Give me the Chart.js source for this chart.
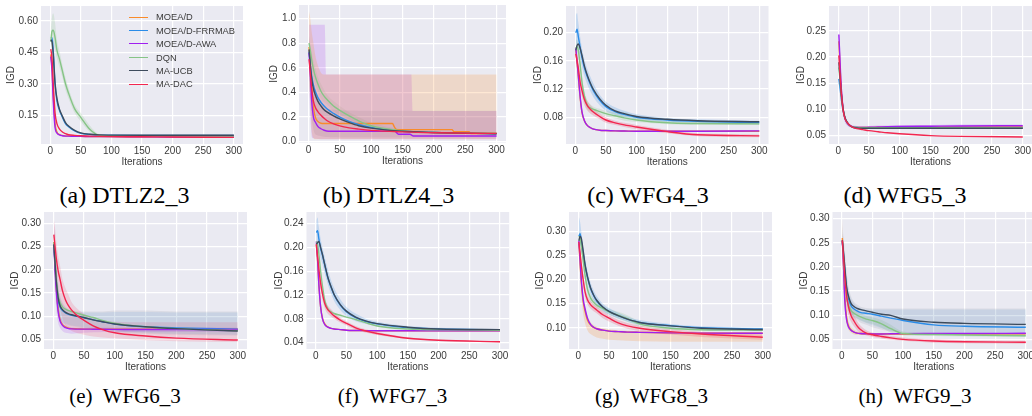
<!DOCTYPE html>
<html><head><meta charset="utf-8">
<script src="https://cdn.jsdelivr.net/npm/chart.js@4.4.1/dist/chart.umd.min.js"></script>
<style>
html,body{margin:0;padding:0;background:#fff;width:1032px;height:416px;overflow:hidden;position:relative;}
canvas{position:absolute;}
.cap{position:absolute;font-family:'Liberation Serif','Times New Roman',serif;white-space:pre;color:#000;transform:translateX(-50%);}
.lgrow{position:absolute;font-family:'Liberation Sans',Arial,sans-serif;font-size:9.3px;line-height:12px;color:#3a3a3a;white-space:nowrap;}
.lgsw{position:absolute;height:0;width:19px;}
</style></head><body>
<script>
// ---------- series ----------
const seriesNames = ['MOEA/D','MOEA/D-FRRMAB','MOEA/D-AWA','DQN','MA-UCB','MA-DAC'];
const seriesColors = ['#f98b2a','#2a8ce8','#a01ff0','#86c486','#3d4b5c','#f2264f'];
const iters = [1,3,5,8,11,15,20,25,30,40,50,65,80,100,150,200,300];
const xTicks = [0,50,100,150,200,250,300];

// ---------- (a) DTLZ2_3 ----------
const dtlz2_moead = [0.44,0.38,0.25,0.11,0.07,0.058,0.053,0.051,0.05,0.049,0.049,0.048,0.048,0.048,0.047,0.047,0.046];
const dtlz2_frrmab = [0.52,0.52,0.46,0.30,0.22,0.175,0.14,0.11,0.095,0.075,0.063,0.058,0.055,0.054,0.053,0.053,0.053];
const dtlz2_awa = [0.43,0.36,0.22,0.09,0.065,0.056,0.052,0.05,0.05,0.049,0.049,0.048,0.048,0.048,0.047,0.046,0.045];
const dtlz2_dqn = [0.50,0.55,0.555,0.52,0.46,0.42,0.36,0.30,0.255,0.18,0.14,0.082,0.055,0.052,0.05,0.05,0.05];
const dtlz2_ucb = [0.51,0.50,0.44,0.30,0.23,0.18,0.145,0.115,0.098,0.078,0.066,0.059,0.056,0.055,0.054,0.054,0.054];
const dtlz2_dac = [0.465,0.42,0.30,0.16,0.11,0.085,0.07,0.062,0.057,0.054,0.052,0.05,0.049,0.048,0.047,0.046,0.044];
const dtlz2_dqn_hi = [0.56,0.62,0.635,0.59,0.51,0.46,0.39,0.33,0.28,0.20,0.16,0.10,0.06,0.055,0.052,0.052,0.052];
const dtlz2_dqn_lo = [0.45,0.49,0.49,0.46,0.42,0.38,0.33,0.27,0.23,0.16,0.12,0.07,0.05,0.049,0.048,0.048,0.048];
const yTicksA = [0.15,0.30,0.45,0.60];

// ---------- (b) DTLZ4_3 ----------
const dtlz4_moead_iters = [1,3,5,8,11,15,20,25,134,137,141,229,232,256,259,300];
const dtlz4_moead = [0.77,0.62,0.45,0.28,0.20,0.165,0.15,0.148,0.148,0.12,0.098,0.098,0.082,0.082,0.067,0.067];
const dtlz4_frrmab = [0.73,0.62,0.54,0.46,0.41,0.36,0.32,0.29,0.265,0.23,0.20,0.165,0.14,0.115,0.085,0.075,0.065];
const dtlz4_awa_iters = [1,3,5,8,11,15,20,25,32,138,141,144,162,165,168,300];
const dtlz4_awa = [0.72,0.55,0.35,0.20,0.16,0.125,0.105,0.093,0.085,0.085,0.072,0.06,0.06,0.052,0.046,0.046];
const dtlz4_dqn = [0.80,0.74,0.67,0.59,0.53,0.47,0.41,0.37,0.34,0.29,0.255,0.21,0.17,0.13,0.088,0.075,0.07];
const dtlz4_ucb = [0.75,0.62,0.52,0.43,0.38,0.33,0.29,0.26,0.24,0.21,0.185,0.155,0.13,0.11,0.085,0.075,0.065];
const dtlz4_dac = [0.67,0.56,0.44,0.33,0.28,0.245,0.215,0.19,0.17,0.145,0.128,0.112,0.102,0.092,0.08,0.073,0.068];
const dtlz4_moead_hi = [1.06,1.0,0.9,0.8,0.7,0.62,0.56,0.545,0.545,0.545,0.545,0.545,0.545,0.545,0.545,0.545,0.545];
const dtlz4_moead_lo = [0.5,0.3,0.1,0.03,0.02,0.02,0.02,0.02,0.02,0.02,0.02,0.02,0.02,0.02,0.02,0.02,0.02];
const dtlz4_awaBand_iters = [1,3,6,26,28,164,166,300];
const dtlz4_awa_hi = [0.95,0.95,0.95,0.95,0.545,0.545,0.25,0.25];
const dtlz4_awa_lo = [0.45,0.2,0.03,0.02,0.02,0.02,0.02,0.02];
const dtlz4_ucb_hi = [0.85,0.75,0.62,0.5,0.42,0.36,0.32,0.29,0.27,0.26,0.255,0.253,0.252,0.252,0.252,0.252,0.252];
const dtlz4_ucb_lo = [0.5,0.35,0.2,0.1,0.06,0.05,0.045,0.04,0.038,0.036,0.035,0.035,0.035,0.035,0.035,0.035,0.035];
const dtlz4_dqn_hi = [0.86,0.8,0.74,0.66,0.6,0.53,0.47,0.42,0.38,0.33,0.29,0.24,0.2,0.155,0.1,0.085,0.078];
const dtlz4_dqn_lo = [0.74,0.68,0.6,0.52,0.46,0.41,0.35,0.32,0.3,0.25,0.22,0.18,0.14,0.105,0.076,0.066,0.062];
const yTicksB = [0.0,0.2,0.4,0.6,0.8,1.0];

// ---------- (c) WFG4_3 ----------
const wfg4_moead = [0.175,0.158,0.138,0.108,0.087,0.075,0.068,0.065,0.063,0.0615,0.061,0.0605,0.0603,0.060,0.060,0.060,0.060];
const wfg4_frrmab = [0.20,0.205,0.195,0.18,0.165,0.15,0.137,0.126,0.117,0.104,0.095,0.088,0.084,0.080,0.076,0.074,0.0725];
const wfg4_awa = [0.178,0.16,0.14,0.11,0.088,0.075,0.068,0.065,0.063,0.0615,0.061,0.0605,0.0603,0.060,0.060,0.060,0.0605];
const wfg4_dqn = [0.178,0.18,0.175,0.155,0.13,0.11,0.097,0.093,0.091,0.088,0.085,0.082,0.079,0.076,0.072,0.071,0.0705];
const wfg4_ucb = [0.175,0.182,0.184,0.178,0.168,0.153,0.139,0.128,0.119,0.106,0.097,0.089,0.085,0.081,0.077,0.075,0.0735];
const wfg4_dac = [0.17,0.16,0.15,0.13,0.118,0.105,0.096,0.091,0.087,0.081,0.076,0.072,0.069,0.066,0.0595,0.055,0.0535];
const wfg4_frrmab_hi = [0.225,0.228,0.215,0.195,0.178,0.162,0.148,0.137,0.127,0.112,0.102,0.094,0.089,0.084,0.079,0.077,0.075];
const wfg4_frrmab_lo = [0.178,0.185,0.178,0.165,0.152,0.138,0.126,0.116,0.108,0.097,0.089,0.083,0.08,0.077,0.073,0.072,0.07];
const wfg4_dqn_hi = [0.19,0.19,0.185,0.165,0.14,0.118,0.103,0.098,0.095,0.092,0.089,0.087,0.087,0.08,0.075,0.073,0.072];
const wfg4_dqn_lo = [0.166,0.17,0.165,0.145,0.12,0.102,0.091,0.088,0.087,0.084,0.081,0.078,0.075,0.073,0.07,0.069,0.069];
const wfg4_dac_hi = [0.18,0.17,0.16,0.14,0.127,0.113,0.103,0.097,0.092,0.085,0.08,0.075,0.072,0.069,0.062,0.057,0.0555];
const wfg4_dac_lo = [0.16,0.15,0.14,0.12,0.109,0.097,0.089,0.085,0.082,0.077,0.072,0.069,0.066,0.063,0.057,0.053,0.0515];
const yTicksC = [0.08,0.12,0.16,0.20];

// ---------- (d) WFG5_3 ----------
const wfg5_moead = [0.23,0.18,0.135,0.10,0.083,0.074,0.068,0.066,0.065,0.065,0.065,0.0655,0.0655,0.066,0.066,0.066,0.066];
const wfg5_frrmab = [0.158,0.14,0.12,0.097,0.083,0.074,0.068,0.066,0.065,0.064,0.064,0.064,0.064,0.064,0.064,0.064,0.064];
const wfg5_awa = [0.243,0.19,0.14,0.10,0.082,0.073,0.068,0.066,0.065,0.065,0.0655,0.066,0.0665,0.067,0.0675,0.068,0.0685];
const wfg5_dqn = [0.18,0.155,0.125,0.098,0.083,0.074,0.068,0.066,0.065,0.0645,0.0645,0.0645,0.0645,0.0645,0.0645,0.0645,0.0645];
const wfg5_ucb = [0.19,0.16,0.13,0.10,0.084,0.074,0.068,0.065,0.064,0.0635,0.0635,0.0635,0.0635,0.0635,0.0635,0.0635,0.0635];
const wfg5_dac = [0.203,0.165,0.13,0.098,0.082,0.074,0.068,0.065,0.063,0.061,0.059,0.057,0.055,0.053,0.0495,0.048,0.047];
const wfg5_awa_hi = [0.28,0.22,0.16,0.112,0.09,0.078,0.071,0.069,0.068,0.068,0.068,0.069,0.069,0.07,0.07,0.071,0.071];
const wfg5_awa_lo = [0.21,0.165,0.122,0.09,0.075,0.068,0.065,0.063,0.062,0.062,0.063,0.063,0.064,0.064,0.065,0.065,0.066];
const yTicksD = [0.05,0.10,0.15,0.20,0.25];

// ---------- (e) WFG6_3 ----------
const wfg6_moead = [0.26,0.21,0.16,0.115,0.093,0.082,0.077,0.074,0.073,0.0725,0.072,0.072,0.072,0.072,0.072,0.072,0.072];
const wfg6_frrmab = [0.25,0.21,0.17,0.135,0.12,0.112,0.107,0.104,0.102,0.099,0.0965,0.092,0.088,0.083,0.077,0.0745,0.072];
const wfg6_awa = [0.255,0.2,0.155,0.11,0.09,0.08,0.075,0.073,0.0725,0.072,0.072,0.0718,0.0716,0.0714,0.071,0.071,0.071];
const wfg6_dqn = [0.26,0.22,0.18,0.145,0.13,0.12,0.115,0.112,0.11,0.106,0.102,0.097,0.091,0.085,0.077,0.073,0.069];
const wfg6_ucb = [0.255,0.215,0.175,0.14,0.123,0.114,0.108,0.105,0.103,0.1,0.097,0.092,0.088,0.083,0.077,0.073,0.068];
const wfg6_dac = [0.276,0.25,0.225,0.198,0.18,0.155,0.135,0.122,0.113,0.1,0.091,0.079,0.071,0.064,0.057,0.0525,0.0485];
const wfg6_ucb_hi = [0.3,0.26,0.22,0.17,0.145,0.13,0.12,0.115,0.112,0.11,0.11,0.11,0.11,0.112,0.112,0.11,0.11];
const wfg6_ucb_lo = [0.21,0.17,0.13,0.1,0.09,0.085,0.082,0.08,0.078,0.076,0.074,0.072,0.07,0.066,0.062,0.06,0.058];
const wfg6_frrmab_hi = [0.29,0.25,0.21,0.165,0.14,0.126,0.118,0.113,0.11,0.108,0.108,0.108,0.108,0.109,0.109,0.108,0.108];
const wfg6_frrmab_lo = [0.22,0.18,0.14,0.105,0.095,0.088,0.084,0.082,0.08,0.078,0.076,0.074,0.072,0.068,0.064,0.062,0.06];
const wfg6_dac_hi = [0.31,0.29,0.26,0.23,0.21,0.18,0.16,0.145,0.13,0.115,0.105,0.095,0.09,0.088,0.087,0.087,0.087];
const wfg6_dac_lo = [0.24,0.21,0.18,0.15,0.12,0.095,0.08,0.072,0.068,0.063,0.06,0.056,0.054,0.052,0.048,0.046,0.044];
const wfg6_awa_hi = [0.31,0.25,0.19,0.135,0.105,0.09,0.082,0.078,0.076,0.075,0.075,0.075,0.075,0.075,0.075,0.075,0.075];
const wfg6_awa_lo = [0.2,0.15,0.115,0.085,0.075,0.068,0.064,0.063,0.062,0.063,0.064,0.065,0.066,0.066,0.066,0.066,0.066];
const yTicksE = [0.05,0.10,0.15,0.20,0.25,0.30];

// ---------- (f) WFG7_3 ----------
const wfg7_moead = [0.205,0.178,0.14,0.1,0.081,0.071,0.066,0.064,0.063,0.062,0.061,0.0605,0.0603,0.060,0.060,0.060,0.060];
const wfg7_frrmab = [0.225,0.228,0.215,0.198,0.187,0.169,0.148,0.133,0.12,0.103,0.092,0.082,0.076,0.0715,0.065,0.063,0.0615];
const wfg7_awa = [0.21,0.18,0.14,0.1,0.08,0.07,0.066,0.064,0.063,0.062,0.061,0.0605,0.0603,0.060,0.060,0.060,0.060];
const wfg7_dqn = [0.21,0.205,0.19,0.16,0.135,0.11,0.097,0.092,0.089,0.086,0.083,0.079,0.074,0.068,0.063,0.0615,0.061];
const wfg7_ucb = [0.205,0.208,0.21,0.2,0.188,0.17,0.149,0.134,0.121,0.104,0.093,0.083,0.077,0.072,0.066,0.063,0.062];
const wfg7_dac = [0.205,0.185,0.165,0.14,0.122,0.105,0.095,0.09,0.085,0.078,0.0725,0.065,0.06,0.0555,0.0475,0.044,0.0415];
const wfg7_frrmab_hi = [0.245,0.25,0.235,0.215,0.2,0.182,0.162,0.145,0.132,0.113,0.1,0.089,0.081,0.075,0.068,0.065,0.063];
const wfg7_frrmab_lo = [0.2,0.205,0.195,0.182,0.172,0.155,0.137,0.122,0.11,0.095,0.085,0.076,0.072,0.068,0.063,0.061,0.06];
const wfg7_dac_hi = [0.215,0.195,0.175,0.15,0.132,0.113,0.102,0.096,0.09,0.082,0.076,0.068,0.063,0.058,0.049,0.045,0.0425];
const wfg7_dac_lo = [0.195,0.175,0.155,0.13,0.112,0.097,0.088,0.084,0.08,0.074,0.069,0.062,0.057,0.053,0.046,0.043,0.0405];
const yTicksF = [0.04,0.08,0.12,0.16,0.20,0.24];

// ---------- (g) WFG8_3 ----------
const wfg8_moead = [0.275,0.235,0.195,0.155,0.135,0.116,0.106,0.101,0.098,0.095,0.093,0.092,0.091,0.0905,0.0895,0.089,0.0885];
const wfg8_frrmab = [0.29,0.295,0.28,0.255,0.23,0.205,0.182,0.167,0.156,0.142,0.134,0.125,0.118,0.111,0.1045,0.1,0.0975];
const wfg8_awa = [0.28,0.24,0.2,0.16,0.14,0.12,0.107,0.101,0.098,0.095,0.093,0.092,0.091,0.0905,0.0895,0.089,0.0885];
const wfg8_dqn = [0.29,0.285,0.27,0.24,0.21,0.18,0.162,0.153,0.147,0.14,0.133,0.126,0.119,0.108,0.099,0.096,0.095];
const wfg8_ucb = [0.28,0.29,0.285,0.26,0.232,0.206,0.183,0.168,0.157,0.143,0.134,0.125,0.118,0.111,0.104,0.099,0.0965];
const wfg8_dac = [0.278,0.255,0.23,0.2,0.175,0.158,0.148,0.142,0.137,0.127,0.12,0.11,0.104,0.099,0.092,0.087,0.0805];
const wfg8_moead_hi = [0.29,0.25,0.21,0.165,0.145,0.125,0.112,0.106,0.102,0.099,0.097,0.095,0.094,0.093,0.092,0.091,0.091];
const wfg8_moead_lo = [0.26,0.21,0.17,0.13,0.11,0.095,0.087,0.083,0.08,0.077,0.075,0.074,0.073,0.072,0.071,0.071,0.071];
const wfg8_frrmab_hi = [0.33,0.32,0.3,0.27,0.245,0.218,0.194,0.178,0.166,0.15,0.141,0.131,0.123,0.116,0.108,0.103,0.1];
const wfg8_frrmab_lo = [0.26,0.27,0.26,0.24,0.217,0.193,0.171,0.157,0.147,0.135,0.127,0.119,0.113,0.106,0.1,0.096,0.094];
const wfg8_dqn_hi = [0.3,0.295,0.28,0.25,0.22,0.19,0.17,0.16,0.153,0.146,0.139,0.133,0.126,0.113,0.102,0.098,0.097];
const wfg8_dqn_lo = [0.28,0.275,0.26,0.23,0.2,0.17,0.154,0.146,0.141,0.134,0.127,0.119,0.112,0.103,0.096,0.094,0.093];
const wfg8_dac_hi = [0.288,0.265,0.24,0.21,0.185,0.167,0.156,0.15,0.144,0.134,0.126,0.116,0.11,0.104,0.097,0.092,0.086];
const wfg8_dac_lo = [0.268,0.245,0.22,0.19,0.165,0.149,0.14,0.134,0.13,0.12,0.113,0.104,0.098,0.093,0.086,0.081,0.075];
const yTicksG = [0.10,0.15,0.20,0.25,0.30];

// ---------- (h) WFG9_3 ----------
const wfg9_moead = [0.26,0.2,0.14,0.095,0.078,0.07,0.065,0.063,0.062,0.0615,0.0612,0.061,0.061,0.061,0.061,0.0612,0.0615];
const wfg9_frrmab = [0.25,0.225,0.195,0.155,0.135,0.12,0.113,0.109,0.106,0.104,0.102,0.098,0.094,0.089,0.08,0.077,0.075];
const wfg9_awa = [0.255,0.2,0.13,0.09,0.076,0.069,0.065,0.063,0.062,0.0615,0.0612,0.0612,0.0615,0.0618,0.062,0.0622,0.0625];
const wfg9_dqn = [0.255,0.22,0.18,0.14,0.12,0.11,0.104,0.1,0.097,0.092,0.089,0.082,0.072,0.062,0.06,0.059,0.0575];
const wfg9_ucb = [0.255,0.23,0.2,0.158,0.14,0.125,0.118,0.114,0.112,0.109,0.106,0.102,0.0995,0.092,0.0855,0.083,0.081];
const wfg9_dac = [0.255,0.22,0.18,0.14,0.118,0.1,0.088,0.078,0.071,0.063,0.0595,0.056,0.053,0.05,0.0465,0.045,0.044];
const wfg9_ucb_hi = [0.29,0.26,0.23,0.19,0.16,0.14,0.128,0.122,0.118,0.115,0.114,0.114,0.114,0.114,0.114,0.114,0.114];
const wfg9_ucb_lo = [0.22,0.19,0.16,0.13,0.11,0.1,0.094,0.09,0.085,0.08,0.075,0.07,0.066,0.063,0.06,0.059,0.058];
const wfg9_frrmab_hi = [0.28,0.25,0.22,0.18,0.155,0.135,0.124,0.118,0.115,0.112,0.112,0.112,0.112,0.112,0.112,0.112,0.112];
const wfg9_frrmab_lo = [0.23,0.2,0.17,0.135,0.115,0.104,0.098,0.093,0.089,0.084,0.079,0.073,0.068,0.064,0.061,0.06,0.059];
const wfg9_moead_hi = [0.30,0.24,0.17,0.11,0.088,0.076,0.07,0.067,0.065,0.064,0.063,0.063,0.063,0.063,0.063,0.063,0.063];
const wfg9_moead_lo = [0.23,0.17,0.115,0.082,0.07,0.064,0.06,0.059,0.059,0.059,0.059,0.059,0.059,0.059,0.059,0.059,0.06];
const wfg9_dqn_hi = [0.27,0.235,0.195,0.15,0.13,0.118,0.111,0.107,0.104,0.099,0.096,0.09,0.08,0.066,0.062,0.061,0.06];
const wfg9_dqn_lo = [0.24,0.205,0.165,0.13,0.11,0.1,0.097,0.093,0.09,0.085,0.082,0.074,0.064,0.058,0.057,0.056,0.055];
const wfg9_dac_hi = [0.27,0.24,0.2,0.16,0.135,0.115,0.1,0.088,0.079,0.069,0.064,0.06,0.057,0.054,0.05,0.048,0.047];
const wfg9_dac_lo = [0.24,0.2,0.16,0.12,0.1,0.087,0.077,0.069,0.064,0.058,0.055,0.052,0.049,0.047,0.043,0.042,0.041];
const yTicksH = [0.05,0.10,0.15,0.20,0.25,0.30];

// ---------- panel tables ----------
const panels = [
 {cap:'(a) DTLZ2_3', yTicks:yTicksA, dec:2, yMin:0.0126, yMax:0.671, legend:true,
  lines:[[iters,dtlz2_moead],[iters,dtlz2_frrmab],[iters,dtlz2_awa],[iters,dtlz2_dqn],[iters,dtlz2_ucb],[iters,dtlz2_dac]],
  bands:[{s:3,x:iters,lo:dtlz2_dqn_lo,hi:dtlz2_dqn_hi}]},
 {cap:'(b) DTLZ4_3', yTicks:yTicksB, dec:1, yMin:-0.008, yMax:1.11,
  lines:[[dtlz4_moead_iters,dtlz4_moead],[iters,dtlz4_frrmab],[dtlz4_awa_iters,dtlz4_awa],[iters,dtlz4_dqn],[iters,dtlz4_ucb],[iters,dtlz4_dac]],
  bands:[{s:0,x:iters,lo:dtlz4_moead_lo,hi:dtlz4_moead_hi,a:0.2},{s:2,x:dtlz4_awaBand_iters,lo:dtlz4_awa_lo,hi:dtlz4_awa_hi,a:0.17},{s:4,x:iters,lo:dtlz4_ucb_lo,hi:dtlz4_ucb_hi,a:0.1},{s:3,x:iters,lo:dtlz4_dqn_lo,hi:dtlz4_dqn_hi,a:0.15}]},
 {cap:'(c) WFG4_3', yTicks:yTicksC, dec:2, yMin:0.0419, yMax:0.238,
  lines:[[iters,wfg4_moead],[iters,wfg4_frrmab],[iters,wfg4_awa],[iters,wfg4_dqn],[iters,wfg4_ucb],[iters,wfg4_dac]],
  bands:[{s:1,x:iters,lo:wfg4_frrmab_lo,hi:wfg4_frrmab_hi},{s:3,x:iters,lo:wfg4_dqn_lo,hi:wfg4_dqn_hi},{s:5,x:iters,lo:wfg4_dac_lo,hi:wfg4_dac_hi}]},
 {cap:'(d) WFG5_3', yTicks:yTicksD, dec:2, yMin:0.0335, yMax:0.2975,
  lines:[[iters,wfg5_moead],[iters,wfg5_frrmab],[iters,wfg5_awa],[iters,wfg5_dqn],[iters,wfg5_ucb],[iters,wfg5_dac]],
  bands:[{s:2,x:iters,lo:wfg5_awa_lo,hi:wfg5_awa_hi}]},
 {cap:'(e)  WFG6_3', yTicks:yTicksE, dec:2, yMin:0.029, yMax:0.325,
  lines:[[iters,wfg6_moead],[iters,wfg6_frrmab],[iters,wfg6_awa],[iters,wfg6_dqn],[iters,wfg6_ucb],[iters,wfg6_dac]],
  bands:[{s:4,x:iters,lo:wfg6_ucb_lo,hi:wfg6_ucb_hi,a:0.09},{s:1,x:iters,lo:wfg6_frrmab_lo,hi:wfg6_frrmab_hi,a:0.1},{s:5,x:iters,lo:wfg6_dac_lo,hi:wfg6_dac_hi,a:0.15},{s:2,x:iters,lo:wfg6_awa_lo,hi:wfg6_awa_hi,a:0.15}]},
 {cap:'(f)  WFG7_3', yTicks:yTicksF, dec:2, yMin:0.0294, yMax:0.2594,
  lines:[[iters,wfg7_moead],[iters,wfg7_frrmab],[iters,wfg7_awa],[iters,wfg7_dqn],[iters,wfg7_ucb],[iters,wfg7_dac]],
  bands:[{s:1,x:iters,lo:wfg7_frrmab_lo,hi:wfg7_frrmab_hi},{s:5,x:iters,lo:wfg7_dac_lo,hi:wfg7_dac_hi}]},
 {cap:'(g)  WFG8_3', yTicks:yTicksG, dec:2, yMin:0.056, yMax:0.340,
  lines:[[iters,wfg8_moead],[iters,wfg8_frrmab],[iters,wfg8_awa],[iters,wfg8_dqn],[iters,wfg8_ucb],[iters,wfg8_dac]],
  bands:[{s:0,x:iters,lo:wfg8_moead_lo,hi:wfg8_moead_hi},{s:1,x:iters,lo:wfg8_frrmab_lo,hi:wfg8_frrmab_hi},{s:3,x:iters,lo:wfg8_dqn_lo,hi:wfg8_dqn_hi},{s:5,x:iters,lo:wfg8_dac_lo,hi:wfg8_dac_hi}]},
 {cap:'(h)  WFG9_3', yTicks:yTicksH, dec:2, yMin:0.030, yMax:0.3137,
  lines:[[iters,wfg9_moead],[iters,wfg9_frrmab],[iters,wfg9_awa],[iters,wfg9_dqn],[iters,wfg9_ucb],[iters,wfg9_dac]],
  bands:[{s:4,x:iters,lo:wfg9_ucb_lo,hi:wfg9_ucb_hi,a:0.09},{s:1,x:iters,lo:wfg9_frrmab_lo,hi:wfg9_frrmab_hi,a:0.1},{s:0,x:iters,lo:wfg9_moead_lo,hi:wfg9_moead_hi},{s:3,x:iters,lo:wfg9_dqn_lo,hi:wfg9_dqn_hi},{s:5,x:iters,lo:wfg9_dac_lo,hi:wfg9_dac_hi}]}
];

// ---------- layout (pixels) ----------
const geom = [
 {PL:41,PR:243,PT:5,PB:144,TX:11.7,CX:124.5,CB:203,CF:24},
 {PL:299,PR:506,PT:4,PB:142.7,TX:274,CX:388.5,CB:203,CF:24},
 {PL:566,PR:768.5,PT:5,PB:144,TX:538.3,CX:648,CB:203,CF:24},
 {PL:829,PR:1032,PT:5,PB:144,TX:801,CX:905,CB:203,CF:24},
 {PL:44,PR:247,PT:211.7,PB:349,TX:15,CX:125,CB:404,CF:21},
 {PL:306.5,PR:509.2,PT:211.7,PB:349,TX:279,CX:392.5,CB:404,CF:21},
 {PL:569,PR:772,PT:211.7,PB:349,TX:540.7,CX:651.5,CB:404,CF:21},
 {PL:832.5,PR:1035,PT:211.7,PB:349,TX:804.3,CX:915,CB:404,CF:21}
];
const FONT = "'Liberation Sans', Arial, sans-serif";
const TXT = '#3a3a3a';
const XH = 24.5;

function rgba(hex, a){
  const n = parseInt(hex.slice(1),16);
  return `rgba(${(n>>16)&255},${(n>>8)&255},${n&255},${a})`;
}
function pts(xs, ys){ return xs.map((x,i)=>({x:x, y:ys[i]})); }

const bgPlugin = {id:'bg', beforeDraw(chart){
  const a = chart.chartArea; const c = chart.ctx;
  c.save(); c.fillStyle = '#EAEAF2'; c.fillRect(a.left, a.top, a.right-a.left, a.bottom-a.top); c.restore();
}};

panels.forEach((p, idx) => {
  const g = geom[idx];
  const CL = Math.floor(g.TX - 6);
  const CT = Math.floor(g.PT) - 8;
  const W = g.PL - CL;
  const width = Math.ceil(g.PR + 12 - CL);
  const height = Math.ceil(g.PB + XH - CT);
  const padTop = g.PT - CT;
  const padRight = width - (g.PR - CL);
  const padBottom = height - (g.PB - CT) - XH;
  const titlePad = g.TX - 6 - CL;

  const cv = document.createElement('canvas');
  cv.width = width; cv.height = height;
  cv.style.left = CL + 'px'; cv.style.top = CT + 'px';
  cv.style.width = width + 'px'; cv.style.height = height + 'px';
  document.body.appendChild(cv);

  const ds = [];
  p.bands.forEach((b, k) => {
    ds.push({data:pts(b.x,b.lo), borderWidth:0, borderColor:'rgba(0,0,0,0)', pointRadius:0, fill:false, order:20+k, cubicInterpolationMode:'monotone'});
    ds.push({data:pts(b.x,b.hi), borderWidth:0, borderColor:'rgba(0,0,0,0)', pointRadius:0, fill:'-1', backgroundColor:rgba(seriesColors[b.s], b.a || 0.2), order:20+k, cubicInterpolationMode:'monotone'});
  });
  p.lines.forEach((l, i) => {
    ds.push({label:seriesNames[i], data:pts(l[0],l[1]), borderColor:seriesColors[i], borderWidth:1.4, pointRadius:0, fill:false, order:5-i, cubicInterpolationMode:'monotone'});
  });

  new Chart(cv, {
    type:'line',
    data:{datasets:ds},
    plugins:[bgPlugin],
    options:{
      responsive:false, animation:false, events:[],
      layout:{padding:{top:padTop, right:padRight, bottom:padBottom, left:0}},
      plugins:{legend:{display:false}, tooltip:{enabled:false}},
      scales:{
        x:{type:'linear', min:-15, max:315,
           afterBuildTicks:s=>{ s.ticks = xTicks.map(v=>({value:v})); },
           afterFit:s=>{ s.height = XH; },
           grid:{color:'#ffffff', lineWidth:1.2, drawTicks:false},
           border:{display:false},
           ticks:{padding:1.5, autoSkip:false, maxRotation:0, color:TXT, font:{family:FONT, size:10}, callback:v=>String(v)},
           title:{display:true, text:'Iterations', color:TXT, font:{family:FONT, size:10}, padding:0}},
        y:{type:'linear', min:p.yMin, max:p.yMax,
           afterBuildTicks:s=>{ s.ticks = p.yTicks.map(v=>({value:v})); },
           afterFit:s=>{ s.width = W; },
           grid:{color:'#ffffff', lineWidth:1.2, drawTicks:false},
           border:{display:false},
           ticks:{padding:3, autoSkip:false, color:TXT, font:{family:FONT, size:10}, callback:v=>Number(v).toFixed(p.dec)},
           title:{display:true, text:'IGD', color:TXT, font:{family:FONT, size:10}, padding:{top:titlePad, bottom:0}}}
      }
    }
  });

  const cap = document.createElement('div');
  cap.className = 'cap';
  cap.textContent = p.cap;
  cap.style.fontSize = g.CF + 'px';
  cap.style.lineHeight = g.CF + 'px';
  cap.style.left = g.CX + 'px';
  cap.style.top = (g.CB - 0.838 * g.CF) + 'px';
  document.body.appendChild(cap);

  if (p.legend) {
    seriesNames.forEach((nm, i) => {
      const cy = 17.3 + 13.4 * i;
      const sw = document.createElement('div');
      sw.className = 'lgsw';
      sw.style.left = '129px'; sw.style.top = (cy - 0.75) + 'px';
      sw.style.borderTop = '1.5px solid ' + seriesColors[i];
      document.body.appendChild(sw);
      const t = document.createElement('div');
      t.className = 'lgrow';
      t.textContent = nm;
      t.style.left = '156px'; t.style.top = (cy - 6) + 'px';
      document.body.appendChild(t);
    });
  }
});
</script>
</body></html>
